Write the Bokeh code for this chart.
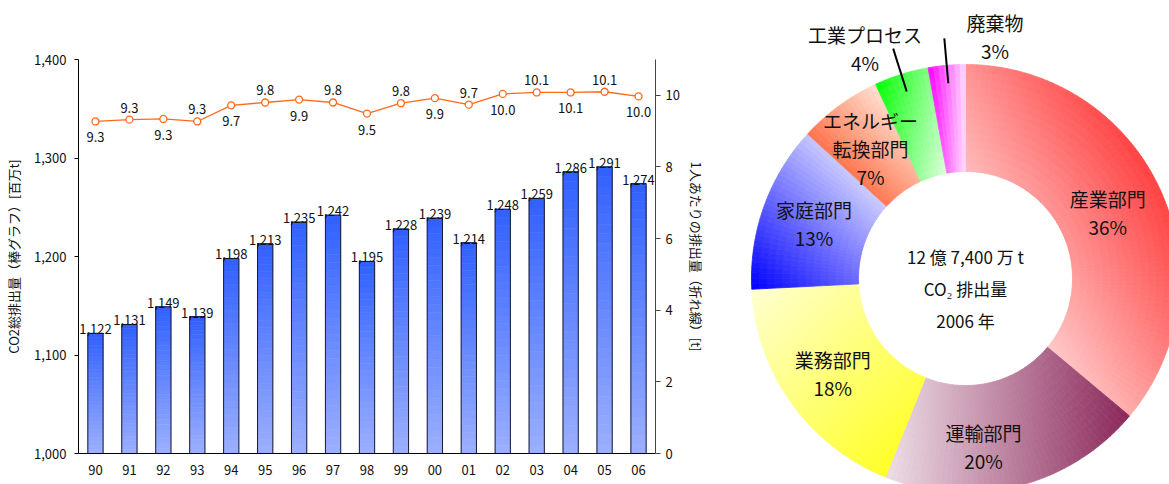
import math
import numpy as np
from bokeh.plotting import figure
from bokeh.models import Range1d, LinearAxis, FixedTicker, ColumnDataSource, FactorRange, NumeralTickFormatter
from bokeh.layouts import row
from bokeh.core.properties import value
from bokeh.embed import file_html
from bokeh.resources import INLINE

# ---------------- data ----------------
years = ["90", "91", "92", "93", "94", "95", "96", "97", "98", "99",
         "00", "01", "02", "03", "04", "05", "06"]
total_emissions = [1122, 1131, 1149, 1139, 1198, 1213, 1235, 1242, 1195,
                   1228, 1239, 1214, 1248, 1259, 1286, 1291, 1274]
per_capita = [9.27, 9.32, 9.34, 9.27, 9.72, 9.80, 9.88, 9.80, 9.49,
              9.78, 9.92, 9.74, 10.04, 10.08, 10.08, 10.10, 9.97]
left_ticks = [1000, 1100, 1200, 1300, 1400]
right_ticks = [0, 2, 4, 6, 8, 10]

sectors = ["産業部門", "運輸部門", "業務部門", "家庭部門", "エネルギー\n転換部門", "工業プロセス", "廃棄物"]
sector_share = [36.1, 20.0, 18.1, 12.6, 6.3, 4.1, 2.8]
sector_pct = ["36%", "20%", "18%", "13%", "7%", "4%", "3%"]
pie_year = 2006

# ---------------- styles ----------------
FONT = value("Noto Sans CJK JP")
FONT_NAME = "Noto Sans CJK JP"


def lerp_hex(c0, c1, t):
    a = [int(c0[i:i + 2], 16) for i in (1, 3, 5)]
    b = [int(c1[i:i + 2], 16) for i in (1, 3, 5)]
    return "#%02x%02x%02x" % tuple(int(round(a[k] + (b[k] - a[k]) * t)) for k in range(3))


# ---------------- left chart ----------------
p = figure(x_range=FactorRange(*years), y_range=Range1d(1000, 1400),
           width=720, height=484, output_backend="svg", toolbar_location=None,
           min_border_left=78, min_border_right=65, min_border_top=59, min_border_bottom=31)
p.frame_align = False
p.outline_line_color = None
p.grid.visible = False
p.extra_y_ranges = {"pc": Range1d(0, 11)}

# gradient bars built from the data (slices)
N_SL = 30
BAR_W = 0.45
sx, sb, st, sc = [], [], [], []
for yr, v in zip(years, total_emissions):
    edges = np.linspace(1000, v, N_SL + 1)
    for k in range(N_SL):
        t = (k + 0.5) / N_SL
        sx.append(yr)
        sb.append(edges[k])
        st.append(edges[k + 1])
        sc.append(lerp_hex("#9cb0ff", "#3060ff", t))
p.vbar(x=sx, bottom=sb, top=st, width=BAR_W, fill_color=sc, line_color=sc, line_width=0.6)
p.vbar(x=years, bottom=1000, top=total_emissions, width=BAR_W, fill_alpha=0,
       line_color="#1a1a33", line_width=1)

# bar labels
bar_src = ColumnDataSource(dict(x=years, y=total_emissions,
                                t=[f"{v:,}" for v in total_emissions]))
p.text(x="x", y="y", text="t", source=bar_src, text_align="center", text_baseline="bottom",
       y_offset=1, text_font=FONT, text_font_size="13px", text_color="#111111")

# per-capita line
ORANGE = "#ff6a1a"
p.line(x=years, y=per_capita, y_range_name="pc", line_color=ORANGE, line_width=1.3)
p.scatter(x=years, y=per_capita, y_range_name="pc", size=7, fill_color="white",
          line_color=ORANGE, line_width=1.3)
offs = [16 if i % 2 == 0 else -12 for i in range(len(years))]
line_src = ColumnDataSource(dict(x=years, y=per_capita, t=[f"{v:.1f}" for v in per_capita], o=offs))
p.text(x="x", y="y", text="t", source=line_src, y_range_name="pc", y_offset="o",
       text_align="center", text_baseline="middle", text_font=FONT,
       text_font_size="13px", text_color="#111111")

# axes
yl = p.yaxis[0]
yl.ticker = FixedTicker(ticks=left_ticks)
yl.formatter = NumeralTickFormatter(format="0,0")
yl.axis_label = "CO2総排出量（棒グラフ）[百万t]"
yl.major_tick_out = 4
yl.major_tick_in = 0
yl.minor_tick_out = 0
yl.minor_tick_in = 0
yl.major_label_standoff = 8
yl.axis_label_standoff = 8
yl.axis_line_color = "black"
yl.major_tick_line_color = "black"

yr_ax = LinearAxis(y_range_name="pc", ticker=FixedTicker(ticks=right_ticks),
                   axis_label="1人あたりの排出量（折れ線）[t]")
yr_ax.major_tick_out = 5
yr_ax.major_tick_in = 0
yr_ax.minor_tick_out = 0
yr_ax.minor_tick_in = 0
yr_ax.major_label_standoff = 5
yr_ax.axis_label_standoff = 4
yr_ax.axis_line_color = "#444444"
yr_ax.major_tick_line_color = "#444444"
p.add_layout(yr_ax, "right")

xa = p.xaxis[0]
xa.major_tick_out = 0
xa.major_tick_in = 0
xa.major_label_standoff = 11
xa.axis_line_color = "black"

for ax in (yl, yr_ax, xa):
    ax.major_label_text_font = FONT_NAME
    ax.major_label_text_font_size = "13px"
    ax.major_label_text_color = "#111111"
    ax.axis_label_text_font = FONT_NAME
    ax.axis_label_text_font_size = "13px"
    ax.axis_label_text_font_style = "normal"
    ax.axis_label_text_color = "#111111"

# ---------------- donut chart ----------------
q = figure(width=449, height=484, x_range=Range1d(0, 449), y_range=Range1d(0, 484),
           output_backend="svg", toolbar_location=None, min_border=0,
           x_axis_type=None, y_axis_type=None)
q.frame_align = False
q.outline_line_color = None
q.grid.visible = False

CX, CY = 245.0, 206.0
R_OUT, R_IN = 214.0, 107.0
# gradient per slice: (direction angle deg, start colour, end colour)
grads = [
    (30, "#ffc6c6", "#ff4545"),
    (0, "#ecdbe4", "#8c2a5c"),
    (-45, "#ffffcc", "#ffff28"),
    (45, "#0505ff", "#cacaff"),
    (45, "#ff7650", "#ffdccd"),
    (-10, "#10ff10", "#d6ffd6"),
    (0, "#ff10ff", "#ffd2ff"),
]

total_share = sum(sector_share)
cum = np.concatenate([[0.0], np.cumsum(np.array(sector_share) / total_share)]) * 2 * math.pi

cx_, cy_, ri_, ro_, sa_, ea_, col_ = [], [], [], [], [], [], []
NR = 14
for k in range(len(sector_share)):
    a0, a1 = cum[k], cum[k + 1]
    na = max(3, int(math.ceil((a1 - a0) / math.radians(1.5))))
    g, c0, c1 = grads[k]
    gx, gy = math.cos(math.radians(g)), math.sin(math.radians(g))
    cells = []
    for i in range(na):
        ca0 = a0 + (a1 - a0) * i / na
        ca1 = a0 + (a1 - a0) * (i + 1) / na
        for j in range(NR):
            r0 = R_IN + (R_OUT - R_IN) * j / NR
            r1 = R_IN + (R_OUT - R_IN) * (j + 1) / NR
            am, rm = (ca0 + ca1) / 2, (r0 + r1) / 2
            proj = rm * math.sin(am) * gx + rm * math.cos(am) * gy
            cells.append((ca0, ca1, r0, r1, proj))
    pr = [c[4] for c in cells]
    pmin, pmax = min(pr), max(pr)
    for ca0, ca1, r0, r1, pj in cells:
        t = (pj - pmin) / (pmax - pmin)
        col = lerp_hex(c0, c1, t)
        cx_.append(CX)
        cy_.append(CY)
        ri_.append(r0)
        ro_.append(r1)
        sa_.append(math.pi / 2 - ca1)
        ea_.append(math.pi / 2 - ca0)
        col_.append(col)

q.annular_wedge(x=cx_, y=cy_, inner_radius=ri_, outer_radius=ro_, start_angle=sa_, end_angle=ea_,
                fill_color=col_, line_color=col_, line_width=0.8)

# labels
label_r = [157, 165, 163, 161, 161, 245, 245]
label_dx = [0, -22, 0, 0, 0, -27, 51]
label_dy = [0, 8, 0, 0, 0, 4, 2]
LINE_H = 28
lx, ly, lt = [], [], []
for k in range(len(sectors)):
    am = (cum[k] + cum[k + 1]) / 2
    bx = CX + label_r[k] * math.sin(am) + label_dx[k]
    by = CY + label_r[k] * math.cos(am) - label_dy[k]
    lines = sectors[k].split("\n") + [sector_pct[k]]
    n = len(lines)
    for i, s in enumerate(lines):
        lx.append(bx)
        ly.append(by - (i - (n - 1) / 2) * LINE_H)
        lt.append(s)
q.text(x=lx, y=ly, text=lt, text_align="center", text_baseline="middle",
       text_font=FONT, text_font_size="19px", text_color="#111111")

# leader lines for the small outer slices
x0s, y0s, x1s, y1s = [], [], [], []
for k in (5, 6):
    am = (cum[k] + cum[k + 1]) / 2
    x0s.append(CX + 196 * math.sin(am))
    y0s.append(CY + 196 * math.cos(am))
    x1s.append(CX + 241 * math.sin(am))
    y1s.append(CY + 241 * math.cos(am))
q.segment(x0=x0s, y0=y0s, x1=x1s, y1=y1s, line_color="black", line_width=2)

# centre text
tot = total_emissions[-1]
center_lines = [f"{tot // 100} 億 {tot % 100 * 100:,} 万 t", "CO₂ 排出量", f"{pie_year} 年"]
q.text(x=[CX] * 3, y=[CY - 10 + 32, CY - 10, CY - 10 - 32], text=center_lines,
       text_align="center", text_baseline="middle", text_font=FONT,
       text_font_size="17px", text_color="#111111")

layout = row(p, q)
open("out.html", "w").write(file_html(layout, INLINE))
